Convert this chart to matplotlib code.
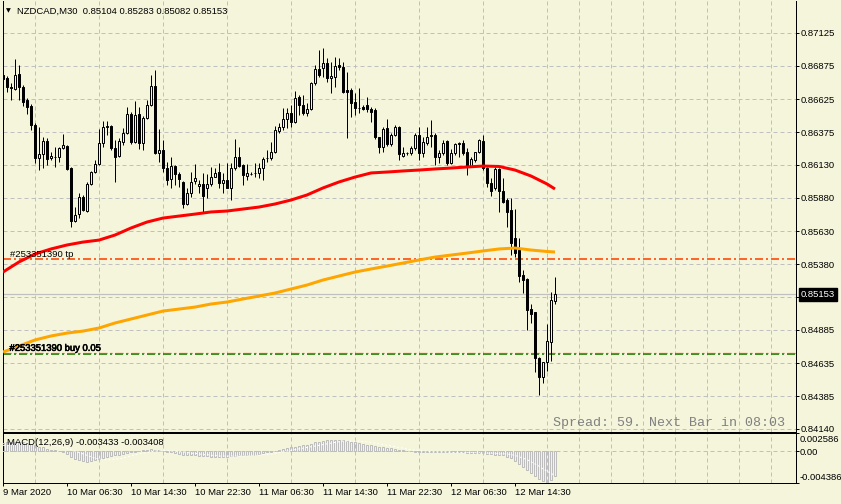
import matplotlib
matplotlib.use("Agg")
import matplotlib.pyplot as plt
import matplotlib.transforms as mtrans
import matplotlib.patheffects as pe
import numpy as np

plt.rcParams['lines.scale_dashes'] = False
plt.rcParams['font.family'] = ['Liberation Sans', 'DejaVu Sans']

# ---------------- data ----------------
symbol = "NZDCAD,M30"

opens = [0.86807, 0.86784, 0.86716, 0.86701, 0.86814, 0.86716, 0.86618, 0.86573, 0.86430, 0.86181,
         0.86211, 0.86309, 0.86181, 0.86188, 0.86188, 0.86256, 0.86271, 0.86105, 0.85706, 0.85758,
         0.85887, 0.85781, 0.85985, 0.86075, 0.86135, 0.86294, 0.86414, 0.86422, 0.86256, 0.86196,
         0.86301, 0.86369, 0.86512, 0.86301, 0.86512, 0.86294, 0.86482, 0.86580, 0.86724, 0.86218,
         0.86241, 0.86105, 0.86022, 0.86120, 0.86060, 0.86000, 0.85834, 0.85917, 0.86007, 0.85970,
         0.85985, 0.85955, 0.85985, 0.86037, 0.86075, 0.85992, 0.86015, 0.85955, 0.86105, 0.86188,
         0.86128, 0.86045, 0.86060, 0.86068, 0.86068, 0.86105, 0.86181, 0.86181, 0.86226, 0.86384,
         0.86414, 0.86475, 0.86520, 0.86452, 0.86641, 0.86580, 0.86520, 0.86550, 0.86746, 0.86852,
         0.86859, 0.86897, 0.86784, 0.86791, 0.86882, 0.86867, 0.86693, 0.86693, 0.86603, 0.86558,
         0.86565, 0.86580, 0.86550, 0.86543, 0.86339, 0.86264, 0.86407, 0.86286, 0.86354, 0.86414,
         0.86196, 0.86218, 0.86218, 0.86256, 0.86354, 0.86218, 0.86294, 0.86347, 0.86354, 0.86188,
         0.86218, 0.86309, 0.86143, 0.86218, 0.86286, 0.86294, 0.86226, 0.86113, 0.86166, 0.86226,
         0.86309, 0.86105, 0.85992, 0.85955, 0.86098, 0.85932, 0.85864, 0.85789, 0.85578, 0.85487,
         0.85299, 0.85268, 0.85042, 0.85020, 0.84673, 0.84529, 0.84643, 0.84793, 0.85104]

highs = [0.86844, 0.86799, 0.86746, 0.86927, 0.86882, 0.86731, 0.86633, 0.86588, 0.86445, 0.86414,
         0.86339, 0.86332, 0.86226, 0.86264, 0.86264, 0.86362, 0.86279, 0.86113, 0.85811, 0.85917,
         0.85902, 0.86000, 0.86083, 0.86166, 0.86399, 0.86460, 0.86460, 0.86430, 0.86316, 0.86332,
         0.86407, 0.86565, 0.86528, 0.86611, 0.86565, 0.86497, 0.86618, 0.86807, 0.86844, 0.86399,
         0.86316, 0.86151, 0.86188, 0.86128, 0.86075, 0.86007, 0.85955, 0.86075, 0.86135, 0.86015,
         0.86068, 0.86060, 0.86113, 0.86105, 0.86143, 0.86068, 0.86143, 0.86143, 0.86324, 0.86264,
         0.86135, 0.86135, 0.86075, 0.86143, 0.86143, 0.86188, 0.86241, 0.86301, 0.86422, 0.86445,
         0.86558, 0.86558, 0.86580, 0.86686, 0.86656, 0.86656, 0.86595, 0.86754, 0.86882, 0.86995,
         0.87010, 0.86935, 0.86905, 0.86942, 0.86935, 0.86905, 0.86829, 0.86709, 0.86671, 0.86709,
         0.86580, 0.86641, 0.86565, 0.86558, 0.86339, 0.86414, 0.86475, 0.86369, 0.86430, 0.86422,
         0.86264, 0.86226, 0.86271, 0.86369, 0.86414, 0.86339, 0.86414, 0.86467, 0.86369, 0.86241,
         0.86316, 0.86316, 0.86249, 0.86294, 0.86301, 0.86316, 0.86256, 0.86188, 0.86226, 0.86324,
         0.86354, 0.86113, 0.86030, 0.86113, 0.86105, 0.86030, 0.85879, 0.85879, 0.85796, 0.85578,
         0.85336, 0.85276, 0.85080, 0.85020, 0.84680, 0.84643, 0.84929, 0.85170, 0.85283]

lows = [0.86543, 0.86678, 0.86618, 0.86693, 0.86618, 0.86573, 0.86512, 0.86392, 0.86143, 0.86090,
        0.86105, 0.86128, 0.86166, 0.86113, 0.86151, 0.86249, 0.86090, 0.85660, 0.85698, 0.85728,
        0.85781, 0.85774, 0.85977, 0.86068, 0.86128, 0.86264, 0.86354, 0.86241, 0.86000, 0.86188,
        0.86279, 0.86362, 0.86286, 0.86294, 0.86249, 0.86241, 0.86475, 0.86573, 0.86211, 0.86151,
        0.86075, 0.85977, 0.85955, 0.85977, 0.85962, 0.85804, 0.85826, 0.85887, 0.85985, 0.85917,
        0.85766, 0.85879, 0.85970, 0.86037, 0.85955, 0.85917, 0.85955, 0.85864, 0.86090, 0.86113,
        0.85977, 0.86015, 0.86053, 0.86037, 0.86030, 0.86015, 0.86151, 0.86166, 0.86218, 0.86369,
        0.86392, 0.86407, 0.86414, 0.86445, 0.86505, 0.86505, 0.86497, 0.86543, 0.86731, 0.86791,
        0.86791, 0.86754, 0.86671, 0.86716, 0.86844, 0.86671, 0.86332, 0.86490, 0.86505, 0.86520,
        0.86543, 0.86528, 0.86452, 0.86324, 0.86218, 0.86226, 0.86271, 0.86271, 0.86347, 0.86166,
        0.86188, 0.86203, 0.86203, 0.86241, 0.86166, 0.86188, 0.86279, 0.86264, 0.86128, 0.86143,
        0.86203, 0.86128, 0.86135, 0.86203, 0.86188, 0.86203, 0.86053, 0.86113, 0.86151, 0.86218,
        0.86090, 0.85962, 0.85894, 0.85939, 0.85774, 0.85841, 0.85660, 0.85449, 0.85434, 0.85246,
        0.85163, 0.84884, 0.84937, 0.84567, 0.84394, 0.84484, 0.84575, 0.84650, 0.85082]

closes = [0.86776, 0.86716, 0.86709, 0.86807, 0.86716, 0.86603, 0.86565, 0.86430, 0.86181, 0.86211,
          0.86309, 0.86173, 0.86196, 0.86192, 0.86256, 0.86279, 0.86098, 0.85706, 0.85751, 0.85887,
          0.85789, 0.85985, 0.86075, 0.86135, 0.86294, 0.86414, 0.86422, 0.86256, 0.86188, 0.86309,
          0.86369, 0.86512, 0.86301, 0.86505, 0.86294, 0.86482, 0.86580, 0.86724, 0.86218, 0.86241,
          0.86105, 0.86015, 0.86120, 0.86060, 0.86022, 0.85834, 0.85917, 0.86000, 0.86030, 0.85985,
          0.85894, 0.85985, 0.86037, 0.86068, 0.85992, 0.86015, 0.85955, 0.86105, 0.86188, 0.86120,
          0.86053, 0.86068, 0.86060, 0.86068, 0.86105, 0.86173, 0.86181, 0.86226, 0.86392, 0.86414,
          0.86475, 0.86520, 0.86452, 0.86633, 0.86580, 0.86520, 0.86550, 0.86746, 0.86852, 0.86807,
          0.86897, 0.86784, 0.86799, 0.86874, 0.86867, 0.86678, 0.86678, 0.86595, 0.86558, 0.86561,
          0.86550, 0.86550, 0.86528, 0.86339, 0.86264, 0.86399, 0.86286, 0.86354, 0.86414, 0.86211,
          0.86218, 0.86215, 0.86256, 0.86354, 0.86218, 0.86301, 0.86339, 0.86354, 0.86188, 0.86218,
          0.86294, 0.86143, 0.86218, 0.86286, 0.86294, 0.86218, 0.86113, 0.86173, 0.86226, 0.86316,
          0.86105, 0.85992, 0.85932, 0.86098, 0.85932, 0.85849, 0.85774, 0.85540, 0.85464, 0.85291,
          0.85261, 0.85035, 0.85004, 0.84673, 0.84529, 0.84643, 0.84801, 0.85110, 0.85153]

# moving averages, read every 4th bar (plus last bar)
ma_bars = [0, 4, 8, 12, 16, 20, 24, 28, 32, 36, 40, 44, 48, 52, 56, 60, 64, 68,
           72, 76, 80, 84, 88, 92, 96, 100, 104, 108, 112, 116, 120, 124, 128, 132, 136, 138]
ma_red = [0.85321, 0.85397, 0.85457, 0.85495, 0.85525, 0.85547, 0.85562, 0.85600, 0.85653,
          0.85698, 0.85728, 0.85743, 0.85758, 0.85774, 0.85781, 0.85796, 0.85811, 0.85834,
          0.85864, 0.85902, 0.85955, 0.86000, 0.86037, 0.86068, 0.86075, 0.86083, 0.86090,
          0.86098, 0.86105, 0.86113, 0.86120, 0.86117, 0.86090, 0.86045, 0.85985, 0.85947]
ma_orange = [0.84718, 0.84763, 0.84809, 0.84839, 0.84861, 0.84876, 0.84899, 0.84937, 0.84967,
             0.84997, 0.85027, 0.85042, 0.85057, 0.85080, 0.85095, 0.85118, 0.85140, 0.85163,
             0.85193, 0.85223, 0.85261, 0.85291, 0.85321, 0.85344, 0.85366, 0.85389, 0.85412,
             0.85434, 0.85449, 0.85464, 0.85480, 0.85495, 0.85502, 0.85487, 0.85476, 0.85472]

macd_main = [0.0011, 0.0012, 0.0012, 0.0013, 0.0013, 0.0012, 0.0011, 0.0010,
             0.0008, 0.0006, 0.0005, 0.0003, 0.0002, 0.0001, 0.0000, -0.0002,
             -0.0004, -0.0008, -0.0011, -0.0013, -0.0014, -0.0015, -0.0014, -0.0013, -0.0011, -0.0009,
             -0.0008, -0.0007, -0.0006, -0.0005, -0.0004, -0.0003, -0.0002,
             -0.0001, 0.0000, 0.0001, 0.0002, 0.0003, 0.0002, 0.0001, 0.0000,
             -0.0001, -0.0002, -0.0003, -0.0004, -0.0005, -0.0005, -0.0006,
             -0.0006, -0.0007, -0.0007, -0.0007, -0.0008, -0.0008, -0.0008, -0.0008,
             -0.0008, -0.0007, -0.0007, -0.0006, -0.0006, -0.0006, -0.0005, -0.0005,
             -0.0004, -0.0003, -0.0002, -0.0001, 0.0000, 0.0002,
             0.0003, 0.0004, 0.0005, 0.0006, 0.0007, 0.0008, 0.0009, 0.0010, 0.0012, 0.0013,
             0.0014, 0.0015, 0.0016, 0.0016, 0.0016, 0.0015, 0.0014, 0.0013, 0.0012, 0.0011,
             0.0010, 0.0009, 0.0008, 0.0007, 0.0006, 0.0005, 0.0004, 0.0004, 0.0003, 0.0002,
             0.0001, 0.0000, 0.0000, -0.0001, -0.0001, -0.0001, -0.0001, -0.0001, -0.0002, -0.0002,
             -0.0002, -0.0002,
             -0.0002, -0.0002, -0.0002, -0.0002, -0.0003, -0.0003, -0.0003, -0.0003, -0.0003, -0.0004,
             -0.0004, -0.0005, -0.0005, -0.0006, -0.0008, -0.0010, -0.0014, -0.0018, -0.0022,
             -0.0026, -0.0030, -0.0035, -0.0039, -0.0042, -0.004386, -0.0040, -0.003433]
macd_signal = [0.0008, 0.0008, 0.0009, 0.0009, 0.0010, 0.0010, 0.0011, 0.0011,
               0.0011, 0.0011, 0.0010, 0.0010, 0.0009, 0.0008, 0.0007, 0.0005,
               0.0004, 0.0002, 0.0000, -0.0002, -0.0004, -0.0006, -0.0008, -0.0010, -0.0011, -0.0012,
               -0.0012, -0.0012, -0.0011, -0.0011, -0.0010, -0.0008, -0.0007,
               -0.0005, -0.0004, -0.0003, -0.0002, -0.0001, 0.0000, 0.0000, 0.0001,
               0.0001, 0.0000, 0.0000, -0.0001, -0.0001, -0.0002, -0.0003,
               -0.0003, -0.0004, -0.0005, -0.0005, -0.0006, -0.0006, -0.0007, -0.0007,
               -0.0007, -0.0007, -0.0007, -0.0007, -0.0007, -0.0007, -0.0006, -0.0006,
               -0.0006, -0.0005, -0.0005, -0.0004, -0.0003, -0.0002,
               -0.0001, 0.0000, 0.0001, 0.0002, 0.0003, 0.0004, 0.0005, 0.0006, 0.0007, 0.0008,
               0.0009, 0.0010, 0.0011, 0.0012, 0.0013, 0.0014, 0.0014, 0.0014, 0.0014, 0.0014,
               0.0013, 0.0013, 0.0012, 0.0011, 0.0010, 0.0009, 0.0008, 0.0007, 0.0006, 0.0005,
               0.0004, 0.0003, 0.0002, 0.0001, 0.0001, 0.0000, 0.0000, -0.0001, -0.0001, -0.0001,
               -0.0001, -0.0001,
               -0.0002, -0.0002, -0.0002, -0.0002, -0.0002, -0.0002, -0.0002, -0.0003, -0.0003, -0.0003,
               -0.0003, -0.0003, -0.0004, -0.0004, -0.0004, -0.0005, -0.0006, -0.0008, -0.0010,
               -0.0012, -0.0015, -0.0018, -0.0021, -0.0025, -0.0028, -0.0031, -0.003408]
macd_range = [-0.004386, 0.002586]

price_ticks = [0.87125, 0.86875, 0.86625, 0.86375, 0.86130, 0.85880, 0.85630, 0.85380,
               0.85135, 0.84885, 0.84635, 0.84385, 0.84140]
date_labels = ["9 Mar 2020", "10 Mar 06:30", "10 Mar 14:30", "10 Mar 22:30", "11 Mar 06:30",
               "11 Mar 14:30", "11 Mar 22:30", "12 Mar 06:30", "12 Mar 14:30"]
order_id = "#253351390"
tp_price = 0.85418
open_price = 0.84700
open_line2 = 0.84712
lots = 0.05
spread_text = "Spread: 59. Next Bar in 08:03"

# ---------------- styling ----------------
W, H, DPI = 841, 504, 100
PX = 72.0 / DPI
BG = '#F5F5DC'
GRID = '#C0C0C0'
FS = 6.8
GRID_LS = (0, (4 * PX, 3 * PX))
DASHDOT = (0, (8 * PX, 3 * PX, 2 * PX, 3 * PX))

fig = plt.figure(figsize=(W / DPI, H / DPI), dpi=DPI, facecolor=BG)


def rect(l, t, r, b):
    return [l / W, 1 - b / H, (r - l) / W, (b - t) / H]


ax = fig.add_axes(rect(2.5, 0.5, 795.5, 431.5), facecolor=BG)
ax2 = fig.add_axes(rect(2.5, 432.5, 795.5, 482.5), facecolor=BG, sharex=ax)

n = len(closes)
idx = np.arange(n)
O = np.array(opens); C = np.array(closes)
Hh = np.array(highs); L = np.array(lows)

ax.set_xlim(-0.125, 198.125)
ax.set_ylim(0.84119, 0.87368)

# grid
ax.set_xticks(np.arange(0, 198, 8), minor=True)
ax.grid(which='minor', axis='x', color=GRID, lw=PX, ls=GRID_LS, zorder=0)
ax.set_yticks(price_ticks)
ax.set_yticklabels([f"{v:.5f}" if abs(v - 0.85135) > 1e-6 else "" for v in price_ticks])
ax.grid(which='major', axis='y', color=GRID, lw=PX, ls=GRID_LS, zorder=0)
ax.set_axisbelow(True)
ax.yaxis.tick_right()
ax.tick_params(axis='y', which='major', length=3 * PX, width=PX, pad=2.5 * PX,
               labelsize=FS, colors='black', direction='out')
ax.tick_params(axis='x', which='both', bottom=False, labelbottom=False, length=0)

for s in ['left', 'right', 'bottom']:
    ax.spines[s].set_linewidth(PX)
    ax.spines[s].set_color('black')
ax.spines['top'].set_visible(False)

# current price line
ax.axhline(C[-1], color='#C0C0C0', lw=1.2 * PX, zorder=1)

# order lines
ax.axhline(tp_price, color='#FF4500', lw=1.6 * PX, ls=DASHDOT, zorder=2)
ax.axhline(open_price, color='#008000', lw=1.6 * PX, ls=DASHDOT, zorder=2)
ax.axhline(open_line2, color='#FF4500', lw=1.2 * PX, ls=DASHDOT, zorder=2)

# candles
ax.vlines(idx, L, Hh, colors='black', lw=PX, zorder=3)
fills = [BG if c >= o else 'black' for o, c in zip(O, C)]
ax.bar(idx, C - O, bottom=O, width=0.5, color=fills, edgecolor='black', linewidth=PX, zorder=4)

# moving averages
ax.plot(ma_bars, ma_red, color='#FF0000', lw=3 * PX, zorder=5, solid_capstyle='butt')
ax.plot(ma_bars, ma_orange, color='#FFA500', lw=3 * PX, zorder=5, solid_capstyle='butt')

blend = mtrans.blended_transform_factory(ax.transAxes, ax.transData)
ax.text(7.0 / 793, tp_price, f"{order_id} tp", transform=blend, fontsize=FS,
        va='bottom', ha='left', zorder=6)
ax.text(7.0 / 793, open_line2, f"{order_id} buy {lots:.2f}", transform=blend, fontsize=FS,
        va='bottom', ha='left', zorder=6,
        path_effects=[pe.withStroke(linewidth=0.45, foreground='black')])

# current price box
ax.text((800.5 - 2.5) / 793, C[-1], f"{C[-1]:.5f}", transform=blend, fontsize=FS,
        color='white', va='center', ha='left', clip_on=False, zorder=10,
        bbox=dict(boxstyle='square,pad=0.2', fc='black', ec='black'))

# header
fig.text(6.3 / W, 1 - 11 / H, "\u25BC", fontsize=4.5, family='DejaVu Sans', va='center', ha='left')
fig.text(17.3 / W, 1 - 11 / H,
         f"{symbol}  {opens[-1]:.5f} {highs[-1]:.5f} {lows[-1]:.5f} {closes[-1]:.5f}",
         fontsize=FS, va='center', ha='left')

# spread text
fig.text(553 / W, 1 - 423 / H, spread_text, family='Liberation Mono', fontsize=9.6,
         color='#808080', va='center', ha='left')

# ---------------- MACD panel ----------------
ax2.set_ylim(*macd_range)
ax2.bar(idx, macd_main, width=0.45, facecolor='none', edgecolor='#BDBDBD', linewidth=PX, zorder=3)
ax2.plot(idx, macd_signal, color='white', lw=PX, ls=(0, (2 * PX, 2 * PX)), zorder=4)

ax2.set_xticks(np.arange(0, 198, 8), minor=True)
ax2.grid(which='minor', axis='x', color=GRID, lw=PX, ls=GRID_LS, zorder=0)
ax2.set_xticks(np.arange(0, 16 * len(date_labels), 16))
ax2.set_xticklabels(date_labels, ha='left')
ax2.tick_params(axis='x', which='major', length=3 * PX, width=PX, pad=2.5 * PX,
                labelsize=FS, colors='black', direction='out')
ax2.tick_params(axis='x', which='minor', length=0)

ax2.yaxis.tick_right()
ax2.set_yticks([macd_range[1], 0.0, macd_range[0]])
ax2.set_yticklabels([f"{macd_range[1]:.6f}", "0.00", f"{macd_range[0]:.6f}"])
ax2.grid(which='major', axis='y', color=GRID, lw=PX, ls=GRID_LS, zorder=0)
ax2.tick_params(axis='y', which='major', length=3 * PX, width=PX, pad=1.5 * PX,
                labelsize=FS, colors='black', direction='out')
yl = ax2.get_yticklabels()
yl[0].set_va('top')
yl[0].set_transform(yl[0].get_transform() +
                    mtrans.ScaledTranslation(0, -3.0 / DPI, fig.dpi_scale_trans))
yl[2].set_va('bottom')
ax2.set_axisbelow(True)
for s in ax2.spines.values():
    s.set_linewidth(PX)
    s.set_color('black')

fig.text(7.3 / W, 1 - 442.5 / H, f"MACD(12,26,9) {macd_main[-1]:.6f} {macd_signal[-1]:.6f}",
         fontsize=FS, va='center', ha='left')

fig.savefig("out.png", dpi=DPI, facecolor=BG)
